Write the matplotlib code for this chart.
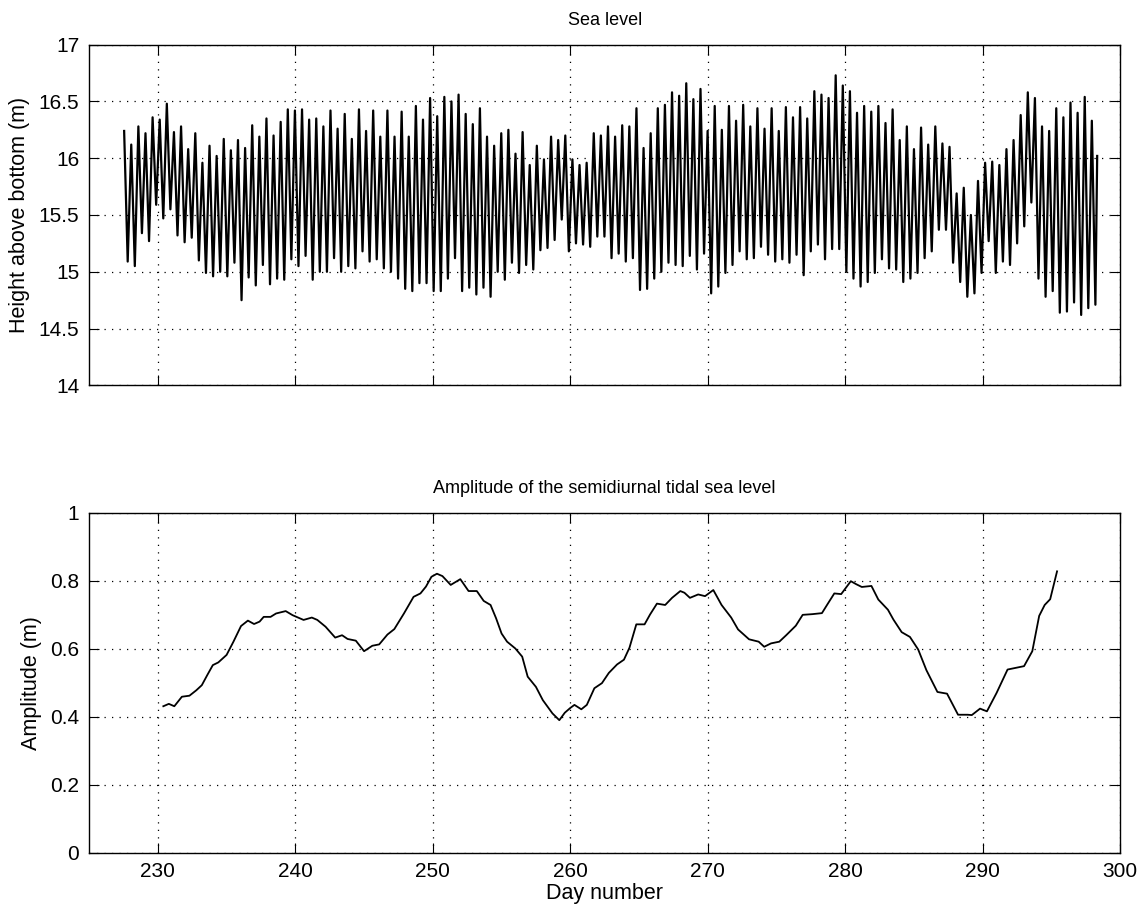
#!/usr/bin/env python3

import numpy as np
import matplotlib.pyplot as plt
from matplotlib.ticker import FormatStrFormatter

plt.rcParams['font.family'] = ['Liberation Sans', 'DejaVu Sans']

# sea level: successive high and low waters (m)
high_water = [16.24, 16.12, 16.28, 16.22, 16.36, 16.34, 16.48, 16.23, 16.28, 16.08,
              16.22, 15.96, 16.11, 16.02, 16.17, 16.07, 16.16, 16.09, 16.29, 16.19,
              16.35, 16.20, 16.32, 16.43, 16.42, 16.43, 16.34, 16.35, 16.28, 16.42,
              16.26, 16.39, 16.17, 16.43, 16.24, 16.42, 16.19, 16.42, 16.19, 16.41,
              16.19, 16.46, 16.34, 16.53, 16.37, 16.54, 16.50, 16.56, 16.39, 16.30,
              16.44, 16.19, 16.11, 16.22, 16.25, 16.04, 16.23, 15.94, 16.11, 15.99,
              16.19, 16.16, 16.20, 15.99, 15.94, 15.96, 16.22, 16.20, 16.28, 16.19,
              16.29, 16.28, 16.44, 16.09, 16.22, 16.44, 16.47, 16.58, 16.55, 16.66,
              16.52, 16.61, 16.24, 16.46, 16.25, 16.46, 16.33, 16.47, 16.28, 16.44,
              16.26, 16.44, 16.24, 16.45, 16.36, 16.45, 16.35, 16.59, 16.56, 16.53,
              16.73, 16.64, 16.59, 16.40, 16.46, 16.41, 16.46, 16.31, 16.43, 16.16,
              16.28, 16.08, 16.27, 16.12, 16.28, 16.13, 16.10, 15.69, 15.74, 15.50,
              15.80, 15.96, 15.97, 15.94, 16.08, 16.16, 16.38, 16.58, 16.53, 16.28,
              16.24, 16.44, 16.36, 16.49, 16.40, 16.54, 16.33]
low_water = [15.09, 15.05, 15.34, 15.27, 15.59, 15.47, 15.55, 15.32, 15.26, 15.30,
             15.10, 14.99, 14.96, 15.00, 14.96, 15.08, 14.75, 14.95, 14.88, 15.06,
             14.89, 14.94, 14.93, 15.11, 15.05, 15.14, 14.93, 15.00, 15.00, 15.12,
             15.00, 15.05, 15.03, 15.18, 15.09, 15.11, 15.03, 15.00, 14.94, 14.85,
             14.83, 14.90, 14.90, 14.83, 14.83, 14.94, 15.12, 14.83, 14.86, 14.80,
             14.86, 14.78, 15.00, 14.93, 15.08, 14.99, 15.06, 15.02, 15.19, 15.21,
             15.28, 15.46, 15.18, 15.25, 15.24, 15.22, 15.31, 15.31, 15.12, 15.16,
             15.09, 15.12, 14.84, 14.85, 14.94, 15.00, 15.08, 15.06, 15.05, 15.14,
             15.02, 15.16, 14.81, 14.87, 14.99, 15.06, 15.18, 15.11, 15.12, 15.22,
             15.15, 15.09, 15.11, 15.08, 15.15, 14.97, 15.18, 15.24, 15.11, 15.20,
             15.20, 15.00, 14.94, 14.87, 14.91, 14.99, 15.11, 15.03, 15.02, 14.91,
             14.94, 14.99, 15.12, 15.18, 15.37, 15.37, 15.08, 14.91, 14.78, 14.81,
             14.99, 15.27, 14.99, 15.09, 15.06, 15.25, 15.40, 15.61, 14.94, 14.78,
             14.83, 14.64, 14.65, 14.73, 14.62, 14.68, 14.71]
first_high_day = 227.55
last_level = 16.02
m2_period_days = 12.42 / 24.0

# semidiurnal amplitude
amp_day = [230.4, 230.8, 231.2, 231.75, 232.3, 232.8, 233.2, 233.6, 234.0, 234.4,
           235.0, 235.5, 236.05, 236.55, 237.0, 237.4, 237.7, 238.2, 238.6, 239.3,
           239.8, 240.6, 241.2, 241.6, 242.2, 242.9, 243.4, 243.8, 244.4, 245.0,
           245.6, 246.1, 246.7, 247.2, 247.9, 248.6, 249.1, 249.5, 249.9, 250.3,
           250.7, 251.3, 252.0, 252.6, 253.2, 253.7, 254.2, 254.6, 255.0, 255.4,
           256.0, 256.5, 256.9, 257.5, 258.0, 258.7, 259.2, 259.6, 260.0, 260.3,
           260.8, 261.2, 261.75, 262.3, 262.8, 263.4, 263.9, 264.3, 264.8, 265.4,
           265.8, 266.3, 266.9, 267.4, 268.0, 268.3, 268.7, 269.3, 269.8, 270.4,
           271.0, 271.7, 272.2, 273.0, 273.7, 274.1, 274.6, 275.2, 275.7, 276.4,
           276.9, 277.6, 278.3, 278.7, 279.2, 279.7, 280.4, 280.8, 281.2, 281.9,
           282.4, 283.1, 283.5, 284.1, 284.7, 285.3, 285.9, 286.7, 287.4, 288.2,
           288.9, 289.2, 289.8, 290.3, 291.0, 291.8, 292.4, 293.0, 293.6, 294.1,
           294.5, 294.9, 295.4]
amp_val = [0.431, 0.438, 0.431, 0.459, 0.462, 0.478, 0.493, 0.523, 0.552, 0.560,
           0.582, 0.621, 0.667, 0.683, 0.673, 0.680, 0.694, 0.694, 0.704, 0.711,
           0.699, 0.685, 0.692, 0.685, 0.665, 0.633, 0.640, 0.629, 0.624, 0.593,
           0.609, 0.613, 0.642, 0.658, 0.704, 0.753, 0.763, 0.783, 0.812, 0.821,
           0.814, 0.788, 0.805, 0.770, 0.770, 0.741, 0.729, 0.690, 0.645, 0.621,
           0.601, 0.577, 0.518, 0.488, 0.449, 0.410, 0.390, 0.412, 0.426, 0.435,
           0.422, 0.435, 0.484, 0.499, 0.529, 0.554, 0.568, 0.603, 0.672, 0.672,
           0.701, 0.733, 0.729, 0.750, 0.770, 0.765, 0.750, 0.760, 0.755, 0.773,
           0.729, 0.692, 0.657, 0.628, 0.621, 0.606, 0.616, 0.621, 0.640, 0.668,
           0.700, 0.702, 0.705, 0.731, 0.763, 0.761, 0.799, 0.790, 0.782, 0.785,
           0.745, 0.715, 0.686, 0.649, 0.635, 0.598, 0.537, 0.473, 0.468, 0.406,
           0.406, 0.405, 0.424, 0.416, 0.470, 0.539, 0.544, 0.549, 0.593, 0.697,
           0.729, 0.746, 0.828]

day_ticks = [230, 240, 250, 260, 270, 280, 290, 300]


def style_axes(ax):
    ax.set_xlim(225, 300)
    ax.set_xticks(day_ticks)
    ax.grid(True, color='black', linestyle=(0, (1, 5)), linewidth=0.9)
    ax.tick_params(direction='in', length=7, width=0.8, top=True, right=True,
                   labelsize=15, pad=7)
    for s in ax.spines.values():
        s.set_linewidth(1.0)
    ax.yaxis.set_major_formatter(FormatStrFormatter('%g'))


def main():
    level = np.empty(2 * len(high_water) + 1)
    level[0:-1:2] = high_water
    level[1:-1:2] = low_water
    level[-1] = last_level
    t = first_high_day + np.arange(len(level)) * m2_period_days / 2
    t[-1] = t[-2] + 0.13

    fig = plt.figure(figsize=(11.42, 9.11), dpi=100)
    ax1 = fig.add_axes([0.078, 0.577, 0.903, 0.374])
    ax2 = fig.add_axes([0.078, 0.064, 0.903, 0.373])

    ax1.plot(t, level, color='black', linewidth=1.6)
    style_axes(ax1)
    ax1.set_ylim(14, 17)
    ax1.set_yticks(np.arange(14, 17.01, 0.5))
    ax1.set_xticklabels([])
    ax1.set_title("Sea level", fontsize=13, pad=14)
    ax1.set_ylabel("Height above bottom (m)", fontsize=15.5, labelpad=6)

    ax2.plot(amp_day, amp_val, color='black', linewidth=1.3)
    style_axes(ax2)
    ax2.set_ylim(0, 1)
    ax2.set_yticks(np.arange(0, 1.01, 0.2))
    ax2.set_title("Amplitude of the semidiurnal tidal sea level", fontsize=13, pad=14)
    ax2.set_ylabel("Amplitude (m)", fontsize=15.5, labelpad=6)
    ax2.set_xlabel("Day number", fontsize=15.5, labelpad=1)

    fig.savefig("out.png", dpi=100)


if __name__ == "__main__":
    main()
